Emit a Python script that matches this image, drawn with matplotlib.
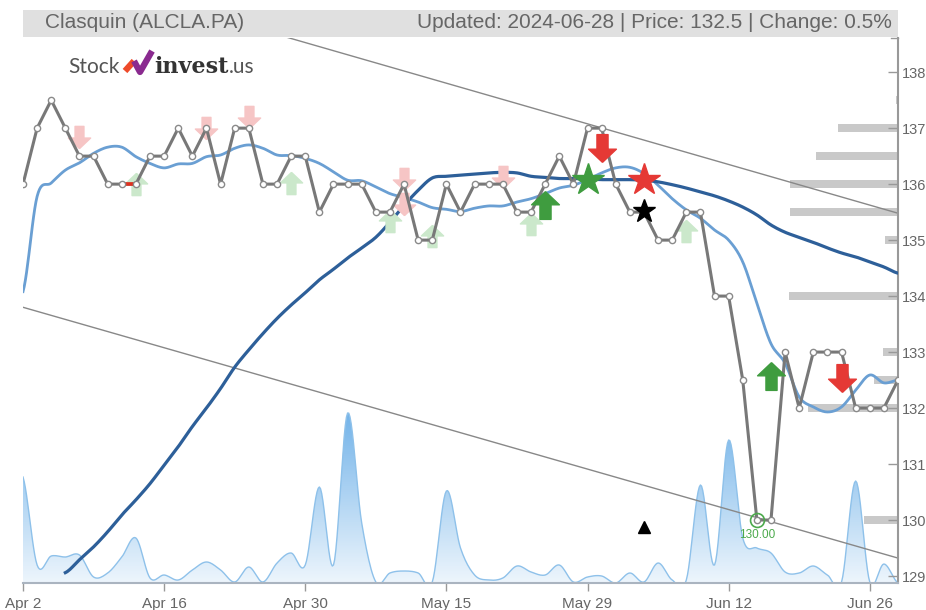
import numpy as np
import pandas as pd
import matplotlib
matplotlib.use("Agg")
import matplotlib.pyplot as plt
from matplotlib.colors import LinearSegmentedColormap
from matplotlib.lines import Line2D

# trading days Apr 2 - Jun 28 2024 (Euronext closed May 1)
dates = pd.bdate_range("2024-04-02", "2024-06-28")
dates = dates[dates != pd.Timestamp("2024-05-01")]

close = [136, 137, 137.5, 137, 136.5, 136.5, 136, 136, 136, 136.5,
         136.5, 137, 136.5, 137, 136, 137, 137, 136, 136, 136.5,
         136.5, 135.5, 136, 136, 136, 135.5, 135.5, 136, 135, 135,
         136, 135.5, 136, 136, 136, 135.5, 135.5, 136, 136.5, 136,
         137, 137, 136, 135.5, 135.5, 135, 135, 135.5, 135.5, 134,
         134, 132.5, 130, 130, 133, 132, 133, 133, 133, 132,
         132, 132, 132.5]

ma_short = [134.08, 135.78, 136.02, 136.25, 136.38, 136.55, 136.66, 136.66, 136.49, 136.37,
            136.29, 136.36, 136.37, 136.49, 136.52, 136.64, 136.70, 136.64, 136.52, 136.51,
            136.46, 136.37, 136.22, 136.07, 136.06, 135.95, 135.83, 135.76, 135.68, 135.58,
            135.55, 135.51, 135.57, 135.61, 135.61, 135.68, 135.74, 135.83, 135.93, 135.98,
            136.08, 136.20, 136.29, 136.30, 136.19, 135.98, 135.74, 135.54, 135.39, 135.18,
            135.00, 134.61, 133.87, 133.15, 132.80, 132.20, 132.02, 131.93, 132.02, 132.32,
            132.59, 132.45, 132.50]

ma_long = [np.nan, np.nan, np.nan, 129.06, 129.29, 129.52, 129.79, 130.09, 130.36, 130.65,
           130.98, 131.31, 131.67, 132.00, 132.35, 132.73, 133.04, 133.33, 133.60, 133.84,
           134.06, 134.29, 134.48, 134.68, 134.86, 135.05, 135.32, 135.62, 135.89, 136.11,
           136.14, 136.16, 136.18, 136.20, 136.21, 136.20, 136.14, 136.12, 136.10, 136.10,
           136.09, 136.08, 136.08, 136.08, 136.07, 136.04, 135.99, 135.93, 135.86, 135.79,
           135.70, 135.59, 135.45, 135.27, 135.14, 135.05, 134.96, 134.86, 134.77, 134.70,
           134.61, 134.52, 134.41]

volume = [106, 18, 27, 26, 28, 6, 10, 26, 45, 5,
          8, 3, 13, 21, 13, 1, 16, 1, 20, 30,
          18, 96, 18, 170, 60, 1, 10, 12, 10, 1,
          92, 35, 8, 3, 5, 17, 11, 8, 18, 1,
          6, 7, 0, 10, 1, 20, 3, 3, 98, 18,
          143, 45, 35, 30, 11, 10, 17, 8, 1, 102,
          1, 19, 0]

# trend channel (start / end values)
channel_x = [0, 62]
channel_upper = [139.98, 135.48]
channel_lower = [133.80, 129.32]

# volume-at-price levels
profile_price = [137.5, 137, 136.5, 136, 135.5, 135, 134, 133, 132.5, 132, 130]
profile_size = [2, 60, 82, 108, 108, 13, 109, 15, 24, 90, 34]

# signals
weak_sell_x = [4, 13, 16, 27, 27, 34]
weak_sell_y = [136.84, 137.0, 137.2, 136.09, 135.65, 136.12]
weak_buy_x = [8, 19, 26, 29, 36, 47]
weak_buy_y = [136.0, 136.02, 135.34, 135.07, 135.29, 135.16]
buy_x = [37, 53]
buy_y = [135.63, 132.57]
sell_x = [41, 58]
sell_y = [136.64, 132.54]
star_green = (40, 136.07)
star_red = (44, 136.07)
star_black = (44, 135.52)
triangle = (44, 129.875)
low_point = (52, 130.0)

x = np.arange(len(dates))


def spline(y, n=12):
    y = np.asarray(y, float)
    p = np.concatenate([[y[0]], y, [y[-1]]])
    t = np.linspace(0, 1, n, endpoint=False)
    xs, ys = [], []
    for k in range(len(y) - 1):
        p0, p1, p2, p3 = p[k:k + 4]
        ys.append(0.5 * (2 * p1 + (p2 - p0) * t + (2 * p0 - 5 * p1 + 4 * p2 - p3) * t ** 2
                         + (3 * p1 - p0 - 3 * p2 + p3) * t ** 3))
        xs.append(k + t)
    xs.append([len(y) - 1])
    ys.append([y[-1]])
    return np.concatenate(xs), np.concatenate(ys)


up = [(0, 1), (1, 0.05), (0.4, 0.05), (0.4, -1), (-0.4, -1), (-0.4, 0.05), (-1, 0.05), (0, 1)]
down = [(a, -b) for a, b in up]

W, H = 926, 610
fig = plt.figure(figsize=(W / 100, H / 100), dpi=100)
pos = [23 / W, 1 - 583 / H, 875 / W, 545 / H]
ylo, yhi = 128.875, 138.61

# volume area with vertical gradient
axv = fig.add_axes(pos)
vx, vy = spline(volume)
vtop = max(volume) * 545 / 170
poly = axv.fill_between(vx, 0, vy, facecolor="none", edgecolor="none")
cmap = LinearSegmentedColormap.from_list("vol", [(0.42, 0.69, 0.91, 0.12), (0.42, 0.69, 0.91, 0.95)])
img = axv.imshow(np.linspace(0, 1, 256).reshape(-1, 1), cmap=cmap, aspect="auto", origin="lower",
                 extent=[0, 62, 0, max(volume)], zorder=1)
img.set_clip_path(poly.get_paths()[0], transform=axv.transData)
axv.plot(vx, vy, color="#8ec1ea", lw=1, zorder=2)
axv.set_xlim(0, 62)
axv.set_ylim(0, vtop)
axv.axis("off")

# volume profile bars from the right edge
axp = fig.add_axes(pos)
axp.barh(profile_price, profile_size, height=0.14, left=0, color="#c9c9c9")
axp.set_xlim(875, 0)
axp.set_ylim(ylo, yhi)
axp.axis("off")

ax = fig.add_axes(pos)
ax.patch.set_visible(False)
ax.plot(channel_x, channel_upper, color="#888888", lw=1, zorder=2)
ax.plot(channel_x, channel_lower, color="#888888", lw=1, zorder=2)

sx, sy = spline(ma_short)
ax.plot(sx, sy, color="#6a9fd3", lw=2, zorder=3)
first = int(np.argmax(~np.isnan(ma_long)))
lx, ly = spline(ma_long[first:])
ax.plot(lx + first, ly, color="#2d5f99", lw=2.3, zorder=3)

ax.plot(weak_sell_x, weak_sell_y, ls="none", marker=down, ms=16, color="#f6c5c5", zorder=4)
ax.plot(weak_buy_x, weak_buy_y, ls="none", marker=up, ms=16, color="#cbe8cb", zorder=4)

ax.plot(x, close, color="#787878", lw=2.2, zorder=5)
ax.plot(x[7:9], close[7:9], color="#e0301e", lw=2.6, zorder=5)
ax.plot(x, close, ls="none", marker="o", ms=4.5, mfc="white", mec="#8a8a8a", mew=1, zorder=6)

ax.plot(buy_x, buy_y, ls="none", marker=up, ms=20, color="#3f9c3f", zorder=7)
ax.plot(sell_x, sell_y, ls="none", marker=down, ms=20, color="#e53935", zorder=7)
ax.plot(*star_green, marker="*", ms=24, color="#3f9c3f", zorder=7)
ax.plot(*star_red, marker="*", ms=24, color="#e53935", zorder=7)
ax.plot(*star_black, marker="*", ms=17, color="black", zorder=7)
ax.plot(*triangle, marker="^", ms=9, color="black", zorder=7)
ax.plot(*low_point, marker="o", ms=10, mfc="none", mec="#4caa4c", mew=1.2, zorder=7)
ax.annotate(f"{low_point[1]:.2f}", low_point, xytext=(0, -10.5), textcoords="offset points",
            ha="center", va="center", fontsize=8.5, color="#4caa4c", family="Liberation Sans")

ax.set_xlim(0, 62)
ax.set_ylim(ylo, yhi)
for s in ["left", "top"]:
    ax.spines[s].set_visible(False)
ax.spines["right"].set_color("#999999")
ax.spines["right"].set_linewidth(1.5)
ax.spines["bottom"].set_color("#aab4c0")
ax.spines["bottom"].set_linewidth(1.5)
ax.plot([1 - 7 / 875, 1], [1, 1], transform=ax.transAxes, color="#999999", lw=1, clip_on=False)
ax.yaxis.tick_right()
ax.set_yticks(range(129, 139))
ax.tick_params(axis="y", direction="in", length=7, width=1, color="#999999",
               labelcolor="#666666", labelsize=10.5, pad=3)
ticks = list(range(0, len(dates), 10))
ax.set_xticks(ticks)
ax.set_xticklabels([f"{dates[i]:%b} {dates[i].day}" for i in ticks])
ax.tick_params(axis="x", direction="out", length=6, width=1, color="#999999",
               labelcolor="#666666", labelsize=11, pad=4)
for lab in ax.get_xticklabels() + ax.get_yticklabels():
    lab.set_family("Liberation Sans")

# header bar
fig.patches.append(plt.Rectangle((23 / W, 1 - 37 / H), 875 / W, 27 / H, transform=fig.transFigure,
                                 facecolor="#e0e0e0", edgecolor="none"))
fig.text(45 / W, 1 - 23 / H, "Clasquin (ALCLA.PA)", fontsize=15, color="#666666",
         family="Liberation Sans", va="center", ha="left")
fig.text(892 / W, 1 - 23 / H, "Updated: 2024-06-28 | Price: 132.5 | Change: 0.5%", fontsize=15,
         color="#666666", family="Liberation Sans", va="center", ha="right")

# logo
fig.text(68 / W, 1 - 73 / H, "Stock", fontsize=15, color="#555555", family="Lato", va="baseline")
fig.add_artist(Line2D([125 / W, 134 / W], [1 - 71 / H, 1 - 61 / H], lw=4.5, color="#ee4a2a",
                      solid_capstyle="butt", transform=fig.transFigure))
fig.add_artist(Line2D([134 / W, 140 / W, 152 / W], [1 - 61 / H, 1 - 72 / H, 1 - 51 / H], lw=4.5,
                      color="#8a2a8f", solid_capstyle="butt", transform=fig.transFigure))
fig.text(154 / W, 1 - 73 / H, "invest", fontsize=16, color="#333333", family="DejaVu Serif",
         weight="bold", va="baseline")
fig.text(229 / W, 1 - 73 / H, ".us", fontsize=15, color="#555555", family="Lato", va="baseline")

fig.savefig("out.png", dpi=100)
